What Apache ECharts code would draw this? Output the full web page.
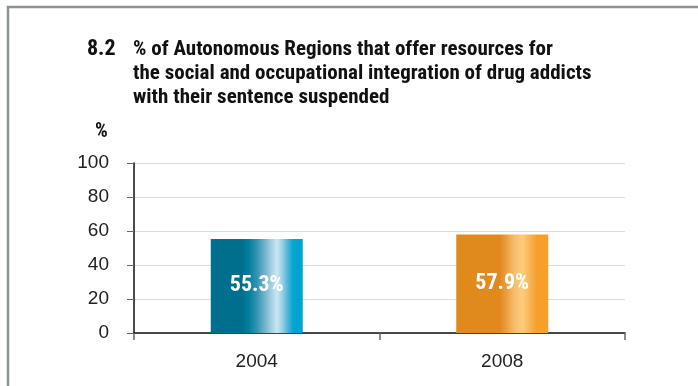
<!DOCTYPE html>
<html><head><meta charset="utf-8">
<script src="https://cdn.jsdelivr.net/npm/echarts@6/dist/echarts.min.js"></script>
<style>html,body{margin:0;padding:0;background:#fff}#c{width:698px;height:386px}</style>
</head><body><div id="c"></div>
<script>
var categories = ['2004', '2008'];
var values = [55.3, 57.9];
var valueLabels = ['55.3%', '57.9%'];
var yTicks = [0, 20, 40, 60, 80, 100];
var titleNumber = '8.2';
var titleLines = ['% of Autonomous Regions that offer resources for', 'the social and occupational integration of drug addicts', 'with their sentence suspended'];
var unitLabel = '%';

var FONT = '"Liberation Sans Narrow", "Arial Narrow", "Roboto Condensed", "Liberation Sans", sans-serif';
var AXFONT = '"Liberation Sans", Arial, sans-serif';
function grad(stops){ return new echarts.graphic.LinearGradient(0,0,1,0, stops.map(function(s){return {offset:s[0], color:s[1]};})); }
var blue = grad([[0,'#006e8d'],[0.34,'#006e8d'],[0.42,'#05809f'],[0.5,'#3393b0'],[0.58,'#6cb0c8'],[0.66,'#a6d0e1'],[0.72,'#cbe7f3'],[0.78,'#96cfe5'],[0.85,'#3eb0d6'],[0.9,'#00a4d1'],[1,'#00a4d1']]);
var orange = grad([[0,'#e0891c'],[0.47,'#e0891c'],[0.55,'#eaa140'],[0.64,'#f6c06e'],[0.72,'#fdcc7c'],[0.8,'#f9b455'],[0.88,'#f69f2a'],[1,'#f6a02c']]);
var colors = [blue, orange];

var chart = echarts.init(document.getElementById('c'), null, {renderer:'canvas'});
chart.setOption({
  animation:false,
  grid:{left:134, right:73, top:163, bottom:53, containLabel:false},
  graphic:[
    {type:'rect', shape:{x:8, y:7, width:720, height:420}, style:{fill:'none', stroke:'#8c9397', lineWidth:2.5}, z:0},
    {type:'text', left:87, top:38, style:{text:titleNumber, font:'bold 22px '+FONT, fill:'#111'}},
    {type:'text', left:133, top:38, style:{text:titleLines.join('\n'), font:'bold 21px '+FONT, fill:'#111', lineHeight:24}},
    {type:'text', left:95, top:122, style:{text:unitLabel, font:'bold 20px '+FONT, fill:'#111'}}
  ],
  xAxis:{type:'category', data:categories,
    axisLine:{show:true, lineStyle:{color:'#111', width:1.5}},
    axisTick:{show:true, length:7, lineStyle:{color:'#666', width:1.5}},
    axisLabel:{color:'#222', fontSize:19, fontFamily:AXFONT, margin:19}},
  yAxis:{type:'value', min:0, max:100, interval:20,
    axisLine:{show:true, lineStyle:{color:'#111', width:1.5}},
    axisTick:{show:true, length:7, lineStyle:{color:'#666'}},
    splitLine:{lineStyle:{color:'#dcdcdc', width:1}},
    axisLabel:{color:'#222', fontSize:19, fontFamily:AXFONT, margin:25,
      formatter:function(v){ return yTicks.indexOf(v)>=0 ? String(v) : ''; }}},
  series:[{type:'bar', barWidth:92,
    data: values.map(function(v,i){ return {value:v, itemStyle:{color:colors[i]}, label:{formatter:valueLabels[i]}}; }),
    label:{show:true, position:'inside', color:'#fff', fontWeight:'bold', fontSize:22, fontFamily:FONT}
  }]
});
</script></body></html>
